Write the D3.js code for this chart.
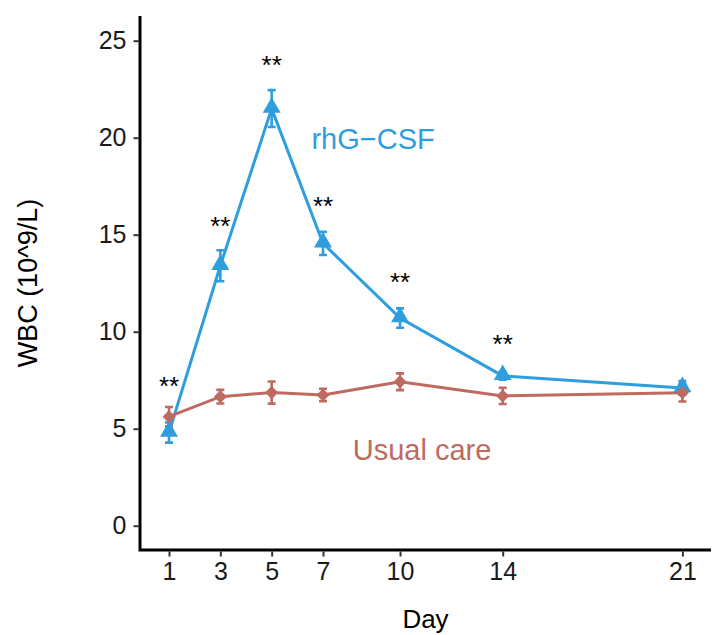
<!DOCTYPE html>
<html>
<head>
<meta charset="utf-8">
<script src="https://cdn.jsdelivr.net/npm/d3@7"></script>
<style>
  html, body { margin: 0; padding: 0; background: #fff; }
  svg { display: block; font-family: "Liberation Sans", Arial, sans-serif; }
</style>
</head>
<body>
<svg id="chart" width="712" height="635"></svg>
<script>
// ---- data ----
const days = [1, 3, 5, 7, 10, 14, 21];
const csfMean = [4.8, 13.4, 21.5, 14.55, 10.7, 7.72, 7.1];
const csfSE   = [0.52, 0.8, 0.95, 0.6, 0.5, 0.2, 0.35];
const ucMean  = [5.62, 6.65, 6.86, 6.74, 7.42, 6.69, 6.85];
const ucSE    = [0.5, 0.35, 0.57, 0.32, 0.43, 0.42, 0.45];
const sigDays = [1, 3, 5, 7, 10, 14];
const sigY    = [7.4, 15.65, 23.95, 16.69, 12.75, 9.57];
const sigLabel = "**";
const yTicks = [0, 5, 10, 15, 20, 25];
const xTicks = [1, 3, 5, 7, 10, 14, 21];
const seriesNames = ["rhG\u2212CSF", "Usual care"];
const xTitle = "Day";
const yTitle = "WBC (10^9/L)";

// ---- layout ----
const panel = { left: 140, right: 711, top: 16, bottom: 550 };
const blue = "#2E9EDF", red = "#BF6A61";

const svg = d3.select("#chart");
const x = d3.scaleLinear().domain([1, 21]).range([169, 682.4]);
const y = d3.scaleLinear().domain([0, 25]).range([525.7, 40.7]);

const series = [
  { name: seriesNames[0], color: blue, mean: csfMean, se: csfSE, shape: "tri" },
  { name: seriesNames[1], color: red, mean: ucMean, se: ucSE, shape: "dia" }
];

// axes
const yAxis = svg.append("g")
  .attr("transform", `translate(${panel.left - 1.5},0)`)
  .call(d3.axisLeft(y).tickValues(yTicks).tickSize(5).tickPadding(7).tickSizeOuter(0));
yAxis.select(".domain").remove();
yAxis.selectAll(".tick line").attr("stroke", "#333").attr("stroke-width", 2);
yAxis.selectAll(".tick text").attr("font-size", 25).attr("fill", "#1a1a1a")
  .attr("font-family", "Liberation Sans, Arial, sans-serif");

const xAxis = svg.append("g")
  .attr("transform", `translate(0,${panel.bottom + 1.5})`)
  .call(d3.axisBottom(x).tickValues(xTicks).tickSize(5).tickPadding(6).tickSizeOuter(0));
xAxis.select(".domain").remove();
xAxis.selectAll(".tick line").attr("stroke", "#333").attr("stroke-width", 2);
xAxis.selectAll(".tick text").attr("font-size", 25).attr("fill", "#1a1a1a")
  .attr("font-family", "Liberation Sans, Arial, sans-serif");

// axis lines
svg.append("path")
  .attr("d", `M${panel.left},${panel.top}V${panel.bottom}H${panel.right}`)
  .attr("fill", "none").attr("stroke", "#000").attr("stroke-width", 3);

// lines
const line = d3.line().x(d => x(d.day)).y(d => y(d.v));
series.forEach(s => {
  const pts = days.map((d, i) => ({ day: d, v: s.mean[i] }));
  svg.append("path").datum(pts)
    .attr("d", line).attr("fill", "none")
    .attr("stroke", s.color).attr("stroke-width", 3);
});

// error bars
const capHalf = 4;
series.forEach(s => {
  const g = svg.append("g").attr("stroke", s.color).attr("stroke-width", 2.6).attr("fill", "none");
  days.forEach((d, i) => {
    const cx = x(d), y1 = y(s.mean[i] - s.se[i]), y2 = y(s.mean[i] + s.se[i]);
    g.append("path").attr("d",
      `M${cx - capHalf},${y1}H${cx + capHalf}M${cx},${y1}V${y2}M${cx - capHalf},${y2}H${cx + capHalf}`);
  });
});

// points
const tri = d3.symbol().type(d3.symbolTriangle).size(140);
const dia = d3.symbol().type(d3.symbolSquare).size(85);
series.forEach(s => {
  days.forEach((d, i) => {
    const p = svg.append("path")
      .attr("fill", s.color)
      .attr("d", s.shape === "tri" ? tri() : dia());
    if (s.shape === "tri") p.attr("transform", `translate(${x(d)},${y(s.mean[i]) - 1})`);
    else p.attr("transform", `translate(${x(d)},${y(s.mean[i])}) rotate(45)`);
  });
});

// significance labels
sigDays.forEach((d, i) => {
  svg.append("text")
    .attr("x", x(d)).attr("y", y(sigY[i]) + 13)
    .attr("text-anchor", "middle").attr("font-size", 26).attr("fill", "#000")
    .text(sigLabel);
});

// series labels
svg.append("text").attr("x", x(8.95)).attr("y", y(19.95)).attr("dy", "0.36em")
  .attr("text-anchor", "middle").attr("font-size", 29).attr("fill", blue)
  .text(seriesNames[0]);
svg.append("text").attr("x", x(10.86)).attr("y", y(3.9)).attr("dy", "0.36em")
  .attr("text-anchor", "middle").attr("font-size", 29).attr("fill", red)
  .text(seriesNames[1]);

// axis titles
svg.append("text")
  .attr("x", (panel.left + panel.right) / 2).attr("y", 628)
  .attr("text-anchor", "middle").attr("font-size", 26).attr("fill", "#000")
  .text(xTitle);
svg.append("text")
  .attr("transform", `translate(27,${(panel.top + panel.bottom) / 2}) rotate(-90)`)
  .attr("dy", "0.36em")
  .attr("text-anchor", "middle").attr("font-size", 27).attr("fill", "#000")
  .text(yTitle);
</script>
</body>
</html>
